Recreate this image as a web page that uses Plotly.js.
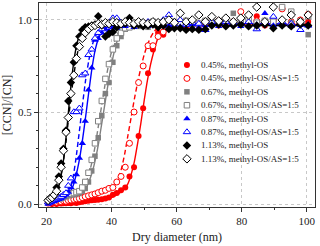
<!DOCTYPE html>
<html><head><meta charset="utf-8">
<script src="https://cdn.plot.ly/plotly-3.0.1.min.js"></script>
<style>html,body{margin:0;padding:0;background:#fff}</style>
</head><body><div id="chart" style="width:320px;height:246px"></div>
<script>
// Shared dry-diameter bins (nm)
const diameters = [20.5,21.1,21.7,22.4,23.1,23.8,24.5,25.2,26.0,26.7,27.5,28.4,29.2,30.1,31.0,31.9,32.9,33.9,34.9,35.9,37.0,38.1,39.2,40.4,41.6,42.9,44.2,45.5,46.9,48.3,49.7,51.2,52.7,54.3,55.9,57.6,59.3,61.1,62.9,64.8,66.8,68.8,70.8,72.9,75.1,77.4,79.7,82.1,84.6,87.1,89.7,92.4,95.2,98.0,100.4];

const seriesNames = ["0.45%, methyl-OS","0.45%, methyl-OS/AS=1:5","0.67%, methyl-OS","0.67%, methyl-OS/AS=1:5","0.87%, methyl-OS","0.87%, methyl-OS/AS=1:5","1.13%, methyl-OS","1.13%, methyl-OS/AS=1:5"];

// Activated fraction [CCN]/[CN]
const ratio045 = [0.01,0.005,0.0,0.005,0.0,0.005,0.003,0.005,0.004,0.006,0.005,0.008,0.006,0.01,0.012,0.015,0.018,0.02,0.022,0.024,0.026,0.03,0.035,0.05,0.06,0.075,0.09,0.15,0.2,0.37,0.52,0.71,0.84,0.93,0.92,0.955,0.97,0.975,0.955,0.97,0.98,0.975,0.985,0.97,0.975,0.98,0.99,0.975,1.02,0.97,0.99,0.975,0.98,0.985,0.99];
const ratio045AS = [0.005,0.01,0.008,0.012,0.01,0.015,0.012,0.018,0.015,0.02,0.022,0.025,0.028,0.03,0.035,0.04,0.045,0.05,0.055,0.062,0.07,0.075,0.085,0.09,0.12,0.15,0.2,0.33,0.5,0.66,0.75,0.86,0.86,0.91,0.935,0.96,0.97,0.99,0.975,0.985,0.97,0.99,0.98,0.995,0.985,0.99,1.045,0.98,0.995,0.985,1.0,1.06,0.99,1.0,1.03];
const ratio067 = [0.01,0.015,0.02,0.02,0.025,0.03,0.03,0.035,0.04,0.045,0.05,0.05,0.055,0.06,0.07,0.085,0.12,0.18,0.26,0.36,0.48,0.6,0.66,0.77,0.86,0.91,0.95,0.96,0.97,0.965,0.975,0.96,0.98,0.97,0.975,0.99,0.97,0.98,0.985,0.97,0.98,0.99,0.975,0.985,0.98,1.036,0.975,0.985,0.97,0.98,0.99,0.975,0.985,0.98,0.92];
const ratio067AS = [0.015,0.02,0.02,0.025,0.03,0.03,0.035,0.04,0.045,0.05,0.055,0.06,0.065,0.07,0.09,0.12,0.17,0.24,0.33,0.45,0.56,0.68,0.76,0.84,0.9,0.93,0.955,0.96,0.975,0.97,0.98,0.975,0.99,0.98,0.985,0.975,0.99,0.98,0.995,0.985,0.98,0.995,0.985,0.99,1.0,0.985,0.99,1.0,0.985,0.995,0.99,1.07,1.045,0.99,1.02];
const ratio087 = [0.0,0.005,0.01,0.015,0.02,0.025,0.03,0.04,0.05,0.065,0.09,0.12,0.16,0.25,0.33,0.45,0.62,0.74,0.89,0.9,0.93,0.95,0.94,0.96,0.955,0.97,0.965,0.975,0.96,0.97,0.975,0.965,0.97,0.975,0.965,0.97,0.975,0.965,0.97,0.975,0.96,0.97,0.975,0.965,0.97,0.975,0.965,0.97,0.975,1.036,0.97,0.975,0.965,0.97,0.975];
const ratio087AS = [0.01,0.015,0.02,0.025,0.03,0.035,0.04,0.05,0.06,0.1,0.14,0.5,0.5,0.52,0.7,0.71,0.81,0.84,0.9,0.93,0.95,0.97,0.98,1.01,1.01,0.985,0.98,0.99,0.975,0.985,0.98,0.99,0.985,0.975,1.0,1.027,0.99,1.0,0.975,0.985,0.98,0.946,0.99,0.98,0.99,0.985,0.98,0.99,0.95,0.985,1.018,0.99,0.98,0.946,0.97];
const ratio113 = [0.02,0.03,0.04,0.05,0.09,0.15,0.22,0.3,0.4,0.56,0.66,0.77,0.86,0.91,0.945,0.96,0.965,0.97,0.975,1.02,0.97,0.91,0.925,0.935,0.96,0.975,0.98,1.01,0.97,0.975,0.965,0.97,0.975,0.96,0.97,0.95,0.955,0.955,0.946,0.95,0.946,0.95,0.97,0.975,0.965,0.97,0.975,0.965,0.97,0.975,0.955,0.97,0.965,0.975,0.97];
const ratio113AS = [0.02,0.03,0.035,0.05,0.07,0.13,0.2,0.29,0.39,0.47,0.6,0.7,0.79,0.855,0.9,0.93,0.95,0.965,0.97,0.98,0.975,0.985,0.98,0.99,0.985,0.98,0.99,0.985,0.98,0.99,0.985,0.98,0.99,0.985,0.99,1.0,0.985,1.036,0.99,1.0,1.027,0.99,1.018,0.995,1.01,0.99,1.01,1.027,1.07,0.99,1.07,1.0,1.027,0.99,1.027];

// Fitted activation curves
const fit045X = [20,25,30,34,37,40,42,43.5,45,46,47,48,49,50,51,52,53,54,55,56,58,60,70,80,90,100];
const fit045Y = [0.0,0.003,0.007,0.012,0.02,0.035,0.055,0.075,0.11,0.16,0.23,0.33,0.44,0.56,0.67,0.76,0.83,0.89,0.93,0.955,0.97,0.975,0.975,0.975,0.975,0.975];
const fit045ASX = [20,25,30,35,38,40,41,42,43,44,45,46,47,48,49,50,51,52,53,54,56,60,70,80,90,100];
const fit045ASY = [0.005,0.01,0.02,0.04,0.065,0.09,0.11,0.14,0.19,0.27,0.37,0.47,0.57,0.66,0.74,0.81,0.865,0.905,0.935,0.955,0.97,0.98,0.98,0.98,0.98,0.98];
const fit067X = [20,25,28,30,31,32,33,34,35,36,37,38,39,40,41,42,43,44,46,50,60,80,100];
const fit067Y = [0.0,0.01,0.02,0.04,0.055,0.08,0.12,0.17,0.24,0.33,0.44,0.55,0.66,0.76,0.84,0.9,0.935,0.955,0.968,0.972,0.972,0.972,0.972];
const fit067ASX = [20,25,28,30,31,32,33,34,35,36,37,38,39,40,41,42,43,45,50,60,80,100];
const fit067ASY = [0.0,0.015,0.03,0.05,0.075,0.11,0.16,0.23,0.32,0.43,0.54,0.65,0.75,0.83,0.89,0.93,0.955,0.97,0.975,0.975,0.975,0.975];
const fit087X = [20,22,24,26,27,28,29,30,31,32,33,34,35,36,37,38,40,45,60,80,100];
const fit087Y = [0.0,0.01,0.02,0.04,0.06,0.09,0.15,0.23,0.34,0.47,0.61,0.74,0.84,0.9,0.935,0.955,0.968,0.972,0.972,0.972,0.972];
const fit087ASX = [20,22,24,26,27,28,29,30,31,32,33,34,35,36,37,39,45,60,80,100];
const fit087ASY = [0.0,0.01,0.025,0.045,0.07,0.13,0.24,0.38,0.53,0.67,0.78,0.86,0.91,0.94,0.96,0.972,0.978,0.978,0.978,0.978];
const fit113X = [20,21,22,23,24,25,26,27,28,29,30,31,32,34,36,40,60,80,100];
const fit113Y = [0.005,0.015,0.03,0.06,0.11,0.21,0.36,0.55,0.72,0.84,0.91,0.945,0.955,0.965,0.97,0.97,0.97,0.97,0.97];
const fit113ASX = [20,21,22,23,24,25,26,27,28,29,30,31,32,34,36,40,60,80,100];
const fit113ASY = [0.01,0.02,0.04,0.07,0.12,0.21,0.34,0.5,0.65,0.77,0.86,0.92,0.95,0.97,0.975,0.975,0.975,0.975,0.975];

const colors = ["#ff0000","#ff0000","#808080","#808080","#0000ff","#0000ff","#000000","#000000"];
const symbols = ["circle","circle","square","square","triangle-up","triangle-up","diamond","diamond"];
const hollow = [false,true,false,true,false,true,false,true];
const sizes = [6,6,5.5,5.5,6.5,6.5,6.5,6.5];

const ratios = [ratio045,ratio045AS,ratio067,ratio067AS,ratio087,ratio087AS,ratio113,ratio113AS];
const fitsX = [fit045X,fit045ASX,fit067X,fit067ASX,fit087X,fit087ASX,fit113X,fit113ASX];
const fitsY = [fit045Y,fit045ASY,fit067Y,fit067ASY,fit087Y,fit087ASY,fit113Y,fit113ASY];

const traces = [];
for (let i = 0; i < 8; i++) {
  traces.push({
    x: fitsX[i], y: fitsY[i], type: 'scatter', mode: 'lines', showlegend: false, hoverinfo: 'skip',
    line: {color: colors[i], width: 1.4, shape: 'spline', smoothing: 0.6, dash: hollow[i] ? '5px,3px' : 'solid'}
  });
}
function markerFor(i) {
  return {
    symbol: symbols[i], size: sizes[i],
    color: hollow[i] ? '#ffffff' : colors[i],
    line: {color: colors[i], width: hollow[i] ? 1 : 0}
  };
}
for (let i = 0; i < 8; i++) {
  traces.push({x: diameters, y: ratios[i], type: 'scatter', mode: 'markers', name: seriesNames[i], showlegend: false, marker: markerFor(i)});
}
// In-plot legend (overlay axes spanning the plot area in 0..1 units)
const legTop = 0.696, legStep = 0.0657, legMarkX = 0.536, legTextX = 0.578;
const annotations = [];
for (let i = 0; i < 8; i++) {
  traces.push({x: [legMarkX], y: [legTop - i*legStep], xaxis: 'x2', yaxis: 'y2', type: 'scatter', mode: 'markers', showlegend: false, hoverinfo: 'skip', marker: markerFor(i)});
  annotations.push({xref: 'paper', yref: 'paper', x: legTextX, y: legTop - i*legStep, xanchor: 'left', yanchor: 'middle', showarrow: false, text: seriesNames[i], font: {family: 'Liberation Serif', size: 9, color: '#222'}});
}

const axisFont = {family: 'Liberation Serif', size: 11, color: '#222'};
const layout = {
  width: 320, height: 246,
  margin: {l: 39, r: 5, t: 3, b: 39},
  paper_bgcolor: '#fff', plot_bgcolor: '#fff',
  showlegend: false,
  font: {family: 'Liberation Serif', color: '#222'},
  xaxis: {
    range: [17.7, 102.5], tick0: 0, dtick: 20, ticks: 'outside', ticklen: 4, tickcolor: '#333',
    minor: {dtick: 10, ticks: 'outside', ticklen: 2, tickcolor: '#333', showgrid: false},
    showline: true, linecolor: '#333', linewidth: 1, mirror: true,
    showgrid: true, gridcolor: '#c8c8c8', griddash: 'dot', gridwidth: 1, zeroline: false,
    tickfont: axisFont,
    title: {text: 'Dry diameter (nm)', font: {family: 'Liberation Serif', size: 12, color: '#222'}, standoff: 6}
  },
  yaxis: {
    range: [-0.016, 1.092], tick0: 0, dtick: 0.5, tickformat: '.1f', ticks: 'outside', ticklen: 4, tickcolor: '#333',
    minor: {dtick: 0.1, ticks: 'outside', ticklen: 2, tickcolor: '#333', showgrid: false},
    showline: true, linecolor: '#333', linewidth: 1, mirror: true,
    showgrid: true, gridcolor: '#c8c8c8', griddash: 'dot', gridwidth: 1, zeroline: false,
    tickfont: axisFont,
    title: {text: '[CCN]/[CN]', font: {family: 'Liberation Serif', size: 12, color: '#222'}, standoff: 4}
  },
  xaxis2: {overlaying: 'x', range: [0, 1], visible: false, fixedrange: true},
  yaxis2: {overlaying: 'y', range: [0, 1], visible: false, fixedrange: true},
  annotations: annotations
};
Plotly.newPlot('chart', traces, layout, {displayModeBar: false, staticPlot: true});
</script></body></html>
